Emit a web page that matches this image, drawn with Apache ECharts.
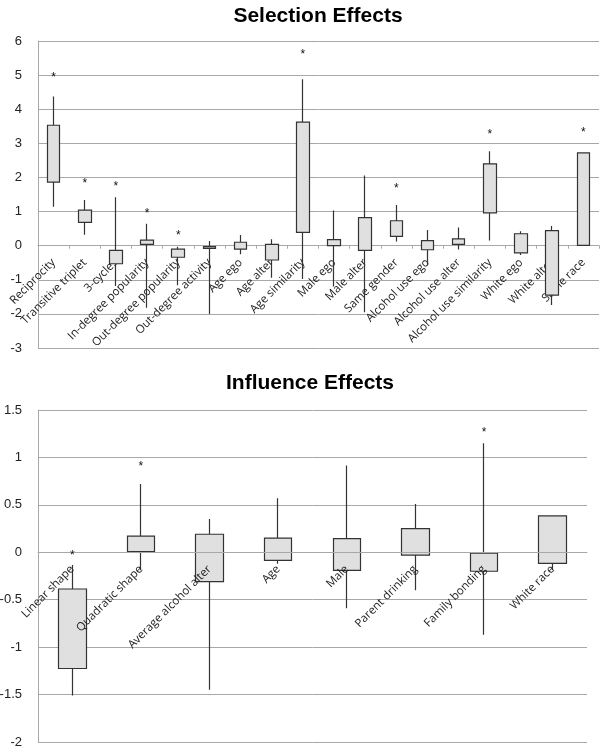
<!DOCTYPE html>
<html>
<head>
<meta charset="utf-8">
<script src="https://cdn.jsdelivr.net/npm/echarts@6/dist/echarts.min.js"></script>
<style>html,body{margin:0;padding:0;background:#fff;}#chart{width:600px;height:749px;}</style>
</head>
<body>
<div id="chart"></div>
<script>
// ---- Selection effects ----
var selCategories = ['Reciprocity','Transitive triplet','3-cycles','In-degree popularity','Out-degree popularity','Out-degree activity','Age ego','Age alter','Age similarity','Male ego','Male alter','Same gender','Alcohol use ego','Alcohol use alter','Alcohol use similarity','White ego','White alter','Same race'];
var selBoxLow      = [1.86, 0.68, -0.53, 0.04, -0.34, -0.08, -0.10, -0.42, 0.39, 0.00, -0.14, 0.27, -0.12, 0.04, 0.96, -0.21, -1.45, 0.01];
var selBoxHigh     = [3.53, 1.04, -0.14, 0.16, -0.10, -0.03, 0.10, 0.04, 3.62, 0.18, 0.82, 0.73, 0.15, 0.20, 2.40, 0.35, 0.44, 2.72];
var selWhiskerLow  = [1.14, 0.32, -1.18, -1.82, -1.16, -2.00, -0.25, -0.94, -0.98, -1.20, -1.95, 0.12, -0.57, -0.11, 0.15, -0.27, -1.74, -0.01];
var selWhiskerHigh = [4.37, 1.34, 1.42, 0.64, -0.03, 0.14, 0.31, 0.19, 4.88, 1.03, 2.06, 1.19, 0.46, 0.53, 2.77, 0.42, 0.58, 2.72];
var selStar        = [5.00, 1.90, 1.83, 1.02, 0.38, null, null, null, 5.69, null, null, 1.77, null, null, 3.33, null, null, 3.39];
var selTicks = {min: -3, max: 6, interval: 1};

// ---- Influence effects ----
var infCategories = ['Linear shape','Quadratic shape','Average alcohol alter','Age','Male','Parent drinking','Family bonding','White race'];
var infBoxLow      = [-1.225, 0.007, -0.31, -0.085, -0.19, -0.03, -0.20, -0.116];
var infBoxHigh     = [-0.387, 0.17, 0.19, 0.15, 0.144, 0.25, -0.01, 0.384];
var infWhiskerLow  = [-1.51, -0.19, -1.45, -0.12, -0.59, -0.40, -0.87, -0.19];
var infWhiskerHigh = [-0.134, 0.72, 0.35, 0.57, 0.915, 0.51, 1.15, 0.39];
var infStar        = [0.00, 0.93, null, null, null, null, 1.29, null];
var infTicks = {min: -2, max: 1.5, interval: 0.5};

function candle(lo, hi, wl, wh) {
  return lo.map(function (v, i) { return [v, hi[i], wl[i], wh[i]]; });
}
function stars(arr) {
  var out = [];
  arr.forEach(function (v, i) { if (v !== null) out.push([i, v]); });
  return out;
}
var gridColor = '#a8a8a8';
var labelFont = '"Open Sans", sans-serif';
function starRender(params, api) {
  var p = api.coord([api.value(0), api.value(1)]);
  return {
    type: 'text', x: p[0], y: p[1] + 3,
    style: { text: '*', fill: '#111', font: '12px "Liberation Sans", Arial, sans-serif', align: 'center', verticalAlign: 'middle' }
  };
}
function xAxisCfg(idx, cats, tick, z) {
  return {
    type: 'category', gridIndex: idx, data: cats, boundaryGap: true, offset: 0, z: z,
    axisLine: { show: true, onZero: false, lineStyle: { color: gridColor, width: 1 } },
    axisTick: { show: tick, interval: 0, length: 3, lineStyle: { color: gridColor } },
    axisLabel: { interval: 0, rotate: 45, margin: 15, fontSize: 11.5, fontFamily: labelFont, color: '#222' },
    splitLine: { show: false }
  };
}
function yAxisCfg(idx, t) {
  return {
    type: 'value', gridIndex: idx, min: t.min, max: t.max, interval: t.interval,
    axisLine: { show: true, lineStyle: { color: gridColor, width: 1 } },
    axisTick: { show: false },
    axisLabel: { margin: 16, fontSize: 13, fontFamily: '"Liberation Sans", Arial, sans-serif', color: '#222' },
    splitLine: { show: true, lineStyle: { color: gridColor, width: 1 } }
  };
}
function candleCfg(idx, data, w) {
  return {
    type: 'candlestick', xAxisIndex: idx, yAxisIndex: idx, data: data, barWidth: w,
    itemStyle: { color: '#e0e0e0', color0: '#e0e0e0', borderColor: '#333', borderColor0: '#333', borderWidth: 1.2 },
    emphasis: { disabled: true }
  };
}

var chart = echarts.init(document.getElementById('chart'), null, { renderer: 'canvas' });
var xAxes = [xAxisCfg(0, selCategories, true, 0), xAxisCfg(1, infCategories, false, 4)];
var yAxes = [yAxisCfg(0, selTicks), yAxisCfg(1, infTicks)];
chart.setOption({
  animation: false,
  backgroundColor: '#fff',
  title: [
    { text: 'Selection Effects', left: 313, top: 1, textAlign: 'center',
      textStyle: { fontSize: 21, fontWeight: 'bold', fontFamily: '"Liberation Sans", Arial, sans-serif', color: '#000' } },
    { text: 'Influence Effects', left: 305, top: 368, textAlign: 'center',
      textStyle: { fontSize: 21, fontWeight: 'bold', fontFamily: '"Liberation Sans", Arial, sans-serif', color: '#000' } }
  ],
  grid: [
    { left: 38, right: 1, top: 41, height: 307, containLabel: false, outerBoundsMode: 'none' },
    { left: 38, right: 13, top: 410, height: 332, containLabel: false, outerBoundsMode: 'none' }
  ],
  xAxis: xAxes,
  yAxis: yAxes,
  series: [
    candleCfg(0, candle(selBoxLow, selBoxHigh, selWhiskerLow, selWhiskerHigh), 13),
    candleCfg(1, candle(infBoxLow, infBoxHigh, infWhiskerLow, infWhiskerHigh), 28),
    { type: 'custom', xAxisIndex: 0, yAxisIndex: 0, data: stars(selStar), renderItem: starRender, z: 5 },
    { type: 'custom', xAxisIndex: 1, yAxisIndex: 1, data: stars(infStar), renderItem: starRender, z: 5 }
  ]
});
// Move each category axis up to the value-axis zero line (as in the original chart).
var mins = [selTicks.min, infTicks.min];
for (var pass = 0; pass < 3; pass++) {
  for (var g = 0; g < 2; g++) {
    var zeroY = chart.convertToPixel({ yAxisIndex: g }, 0);
    var baseY = chart.convertToPixel({ yAxisIndex: g }, mins[g]);
    xAxes[g].offset = -(baseY - zeroY);
  }
  chart.setOption({ xAxis: xAxes });
}
</script>
</body>
</html>
